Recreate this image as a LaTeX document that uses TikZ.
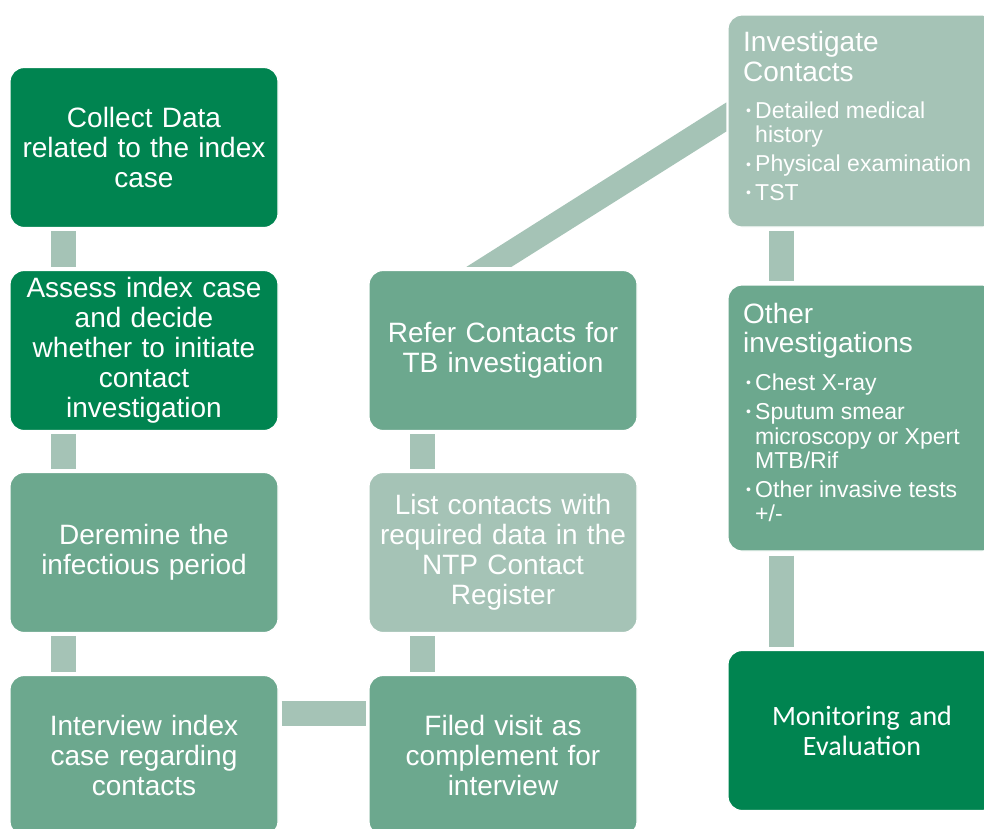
\documentclass[tikz,border=0pt]{standalone}
\usepackage{fontspec}
\setmainfont{Liberation Sans}
\newfontfamily\calib{Carlito}
\usetikzlibrary{calc}
\definecolor{dkg}{RGB}{0,132,80}
\definecolor{mdg}{RGB}{108,168,142}
\definecolor{ltg}{RGB}{165,195,182}
\definecolor{cng}{RGB}{165,195,182}
\begin{document}
\begin{tikzpicture}[x=1pt,y=-1pt,
  box/.style={rounded corners=14pt, draw=white, line width=1.2pt,
    minimum width=268pt, minimum height=160pt, inner sep=0pt,
    align=center, text=white, text width=262pt,
    font=\fontsize{28}{30}\selectfont},
  conn/.style={draw=cng, line width=25pt, line cap=butt},
  head/.style={anchor=base west, inner sep=0pt, text=white,
    font=\fontsize{28}{30}\selectfont},
  item/.style={anchor=base west, inner sep=0pt, text=white,
    font=\fontsize{23}{24.5}\selectfont},
  dot/.style={anchor=base, inner sep=0pt, text=white,
    font=\fontsize{14}{14}\selectfont}
]
\useasboundingbox (0,0) rectangle (984,828);
\clip (0,0) rectangle (984,828);
\fill[white] (0,0) rectangle (984,828);

% left column
\node[box, fill=dkg] (collect) at (144,147.5) {Collect Data\\related to the index\\case};
\node[box, fill=dkg] (assess) at (144,350.5) {Assess index case\\and decide\\whether to initiate\\contact\\investigation};
\node[box, fill=mdg] (deremine) at (144,552.5) {Deremine the\\infectious period};
\node[box, fill=mdg] (interview) at (144,755.5) {Interview index\\case regarding\\contacts};

% middle column
\node[box, fill=mdg] (refer) at (503,350.5) {Refer Contacts for\\TB investigation};
\node[box, fill=ltg] (list) at (503,552.5) {List contacts with\\required data in the\\NTP Contact\\Register};
\node[box, fill=mdg] (filed) at (503,755.5) {Filed visit as\\complement for\\interview};

% right column
\node[box, fill=ltg, minimum height=212pt] (invest) at (862,121) {};
\node[box, fill=mdg, minimum height=266pt] (other) at (862,418) {};
\node[box, fill=dkg, font=\calib\fontsize{28}{30}\selectfont] (monitor) at (862,730.5) {Monitoring and\\Evaluation};

% connectors
\draw[conn] ($(collect.south west)+(54,3)$) -- ($(assess.north west)+(54,-3)$);
\draw[conn] ($(assess.south west)+(54,3)$) -- ($(deremine.north west)+(54,-3)$);
\draw[conn] ($(deremine.south west)+(54,3)$) -- ($(interview.north west)+(54,-3)$);
\draw[conn] ($(interview.north east)+(3,38.5)$) -- ($(filed.north west)+(-2,38.5)$);
\draw[conn] ($(filed.north west)+(54,-3)$) -- ($(list.south west)+(54,3)$);
\draw[conn] ($(list.north west)+(54,-3)$) -- ($(refer.south west)+(54,3)$);
\coordinate (d1) at ($(refer.north west)+(98,-3)$);
\coordinate (d2) at ($(refer.north west)+(143,-3)$);
\coordinate (d3) at ($(invest.north west)+(-1,117)$);
\coordinate (d4) at ($(invest.north west)+(-1,88)$);
\fill[cng] (d1) -- (d2) -- (d3) -- (d4) -- cycle;
\draw[conn] ($(invest.south west)+(54.5,3)$) -- ($(other.north west)+(54.5,-3)$);
\draw[conn] ($(other.south west)+(54.5,4)$) -- ($(monitor.north west)+(54.5,-3)$);

% Investigate Contacts text
\node[head] (ih1) at (743,51) {Investigate};
\node[head] (ih2) at (743,81) {Contacts};
\node[dot] (ib1) at (748.5,115.5) {•};
\node[item] (ii1a) at (755,118) {Detailed medical};
\node[item] (ii1b) at (755,142.5) {history};
\node[dot] (ib2) at (748.5,169) {•};
\node[item] (ii2) at (755,171.5) {Physical examination};
\node[dot] (ib3) at (748.5,197.5) {•};
\node[item] (ii3) at (755,200) {TST};

% Other investigations text
\node[head] (oh1) at (743,323) {Other};
\node[head] (oh2) at (743,352) {investigations};
\node[dot] (ob1) at (748.5,387.5) {•};
\node[item] (oi1) at (755,390) {Chest X-ray};
\node[dot] (ob2) at (748.5,416.5) {•};
\node[item] (oi2a) at (755,419) {Sputum smear};
\node[item] (oi2b) at (755,444) {microscopy or Xpert};
\node[item] (oi2c) at (755,468) {MTB/Rif};
\node[dot] (ob3) at (748.5,494.5) {•};
\node[item] (oi3a) at (755,497) {Other invasive tests};
\node[item] (oi3b) at (755,521) {+/-};
\end{tikzpicture}
\end{document}
